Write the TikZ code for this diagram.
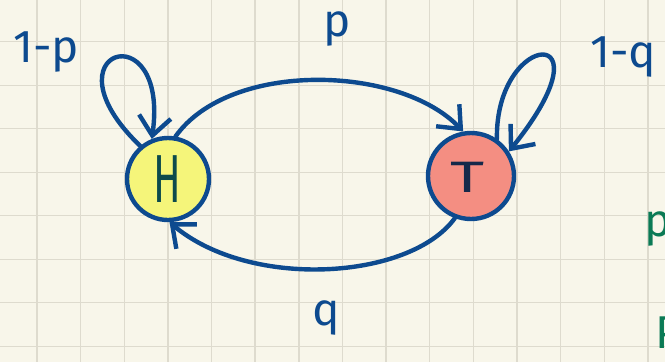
\documentclass[tikz,border=0pt]{standalone}
\usepackage{fontspec}
\usepackage{graphicx}
\setmainfont{Fira Sans}
\usetikzlibrary{arrows.meta}
\definecolor{paper}{RGB}{248,246,234}
\definecolor{gridc}{RGB}{222,219,206}
\definecolor{inkblue}{RGB}{13,74,143}
\definecolor{hfill}{RGB}{245,245,122}
\definecolor{tfill}{RGB}{244,142,130}
\definecolor{htext}{RGB}{12,74,76}
\definecolor{ttext}{RGB}{21,41,74}
\definecolor{inkgreen}{RGB}{11,122,85}
\begin{document}
\begin{tikzpicture}[x=1pt,y=-1pt,
  ink/.style={draw=inkblue, line width=4.4pt, line cap=round, line join=round},
  arr/.style={ink, -{Straight Barb[length=19pt,width=32pt]}},
  stnode/.style={circle, draw=inkblue, line width=4.4pt, minimum size=82pt, inner sep=0pt},
  lbl/.style={text=inkblue, inner sep=0pt, font=\fontsize{46}{46}\selectfont, anchor=base},
  glbl/.style={lbl, text=inkgreen, anchor=base west},
  gridline/.style={draw=gridc, line width=1.4pt}
]
\useasboundingbox (0,0) rectangle (665,362);
\clip (0,0) rectangle (665,362);
\fill[paper] (0,0) rectangle (665,362);
\foreach \k in {0,...,14} \draw[gridline] ({36.9+43.65*\k},0) -- ({36.9+43.65*\k},362);
\foreach \k in {0,...,7} \draw[gridline] (0,{41.7+43.5*\k}) -- (665,{41.7+43.5*\k});

% states
\node[stnode, fill=hfill] (H) at (168,179) {};
\node[stnode, fill=tfill, minimum size=86pt] (T) at (471,176) {};
\node[text=htext, inner sep=0pt, font=\fontsize{68}{68}\selectfont] (Hl) at (167,179) {\scalebox{0.6}[1]{H}};
\node[text=ttext, inner sep=0pt, font=\fontsize{44}{44}\selectfont] (Tl) at (468,177) {\scalebox{1.5}[1]{T}};

% transitions
\draw[arr] (H.80) .. controls (230,60) and (400,65) .. (T.100);
\draw[arr] (T.249) .. controls (410,280) and (250,290) .. (H.-88);
\draw[arr] (H.130) .. controls (40,50) and (170,10) .. (H.112);
\draw[arr] (T.55) .. controls (495,30) and (615,20) .. (T.33);

% labels
\node[lbl, anchor=base west] (lp) at (13,62) {1-p};
\node[lbl] (p) at (337,36) {p};
\node[lbl, anchor=base west] (lq) at (590,67) {1-q};
\node[lbl] (q) at (326,325) {q};
\node[glbl] (gp) at (644,236) {p};
\node[glbl] (gP) at (655,348) {P};
\end{tikzpicture}
\end{document}
